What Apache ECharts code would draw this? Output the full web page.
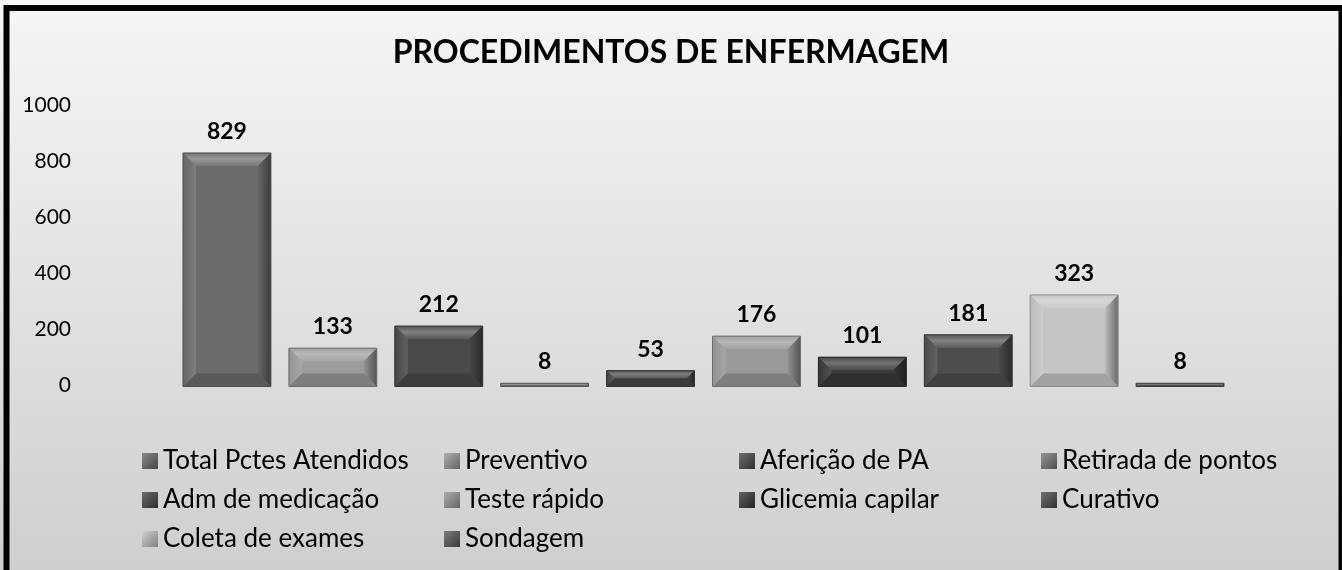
<!DOCTYPE html>
<html>
<head>
<meta charset="utf-8">
<script src="https://cdn.jsdelivr.net/npm/echarts@6/dist/echarts.min.js"></script>
<style>
html,body{margin:0;padding:0;background:#fff;}
#chart{width:1342px;height:570px;}
</style>
</head>
<body>
<div id="chart"></div>
<script>
const titleText = 'PROCEDIMENTOS DE ENFERMAGEM';
const categories = ['Total Pctes Atendidos','Preventivo','Aferição de PA','Retirada de pontos','Adm de medicação','Teste rápido','Glicemia capilar','Curativo','Coleta de exames','Sondagem'];
const values = [829,133,212,8,53,176,101,181,323,8];
const colors = ['#6c6c6c','#9b9b9b','#4a4a4a','#7b7b7b','#474747','#9a9a9a','#393939','#4e4e4e','#c5c5c5','#5b5b5b'];
const yMin = 0, yMax = 1000, yInterval = 200;
const legendColumns = [[0,4,8],[1,5,9],[2,6],[3,7]];

function shade(hex, amt){
  const n = parseInt(hex.slice(1),16);
  let r=(n>>16)&255,g=(n>>8)&255,b=n&255;
  const f = c => Math.max(0,Math.min(255,Math.round(amt>=0 ? c+(255-c)*amt : c*(1+amt))));
  return 'rgb('+f(r)+','+f(g)+','+f(b)+')';
}

function makeRender(color){
  return function(params, api){
    const i = api.value(0), v = api.value(1);
    const base = api.coord([i, 0]);
    const top = api.coord([i, v]);
    const band = api.size([1, 0])[0];
    const w = band * 0.83;
    const x0 = top[0] - w/2, x1 = top[0] + w/2;
    const y0 = Math.min(top[1], base[1]-1), y1 = base[1] + 1;
    const h = y1 - y0;
    const b = Math.min(13, h/2, w/2);
    const children = [
      {type:'rect', shape:{x:x0,y:y0,width:w,height:h}, style:{fill:color}},
      {type:'polygon', shape:{points:[[x0,y0],[x1,y0],[x1-b,y0+b],[x0+b,y0+b]]},
        style:{fill:{type:'linear',x:0,y:0,x2:0,y2:1,colorStops:[{offset:0,color:shade(color,0.05)},{offset:0.45,color:shade(color,0.3)},{offset:1,color:shade(color,0.08)}]}}},
      {type:'polygon', shape:{points:[[x0,y1],[x1,y1],[x1-b,y1-b],[x0+b,y1-b]]},
        style:{fill:shade(color,-0.18)}},
      {type:'polygon', shape:{points:[[x0,y0],[x0+b,y0+b],[x0+b,y1-b],[x0,y1]]},
        style:{fill:{type:'linear',x:0,y:0,x2:1,y2:0,colorStops:[{offset:0,color:shade(color,-0.05)},{offset:1,color:shade(color,0.12)}]}}},
      {type:'polygon', shape:{points:[[x1,y0],[x1-b,y0+b],[x1-b,y1-b],[x1,y1]]},
        style:{fill:{type:'linear',x:0,y:0,x2:1,y2:0,colorStops:[{offset:0,color:shade(color,-0.05)},{offset:1,color:shade(color,-0.45)}]}}},
      {type:'rect', shape:{x:x0,y:y0,width:w,height:h}, style:{fill:'none',stroke:shade(color,-0.3),lineWidth:1}},
      {type:'text', x:top[0], y:y0-10, style:{text:String(v), align:'center', verticalAlign:'bottom', fill:'#000', font:'bold 23px Lato'}}
    ];
    return {type:'group', children:children};
  };
}

const series = categories.map((name, i) => ({
  name: name,
  type: 'custom',
  renderItem: makeRender(colors[i]),
  itemStyle: {color: colors[i]},
  encode: {x:0, y:1},
  data: [[i, values[i]]],
  silent: true,
  animation: false
}));

const legends = legendColumns.map((col, k) => ({
  orient: 'vertical',
  left: [137, 439, 734, 1036][k],
  top: 443,
  itemWidth: 16,
  itemHeight: 16,
  itemGap: 13,
  icon: 'rect',
  selectedMode: false,
  textStyle: {fontFamily:'Lato', fontSize:26, color:'#000'},
  data: col.map(j => ({
    name: categories[j],
    itemStyle: {color: {type:'linear',x:0,y:0,x2:1,y2:1,colorStops:[{offset:0,color:shade(colors[j],0.2)},{offset:1,color:shade(colors[j],-0.35)}]}}
  }))
}));

const chart = echarts.init(document.getElementById('chart'));
chart.setOption({
  animation: false,
  backgroundColor: {type:'linear',x:0,y:0,x2:0,y2:1,colorStops:[{offset:0,color:'#f6f6f6'},{offset:1,color:'#cfcfcf'}]},
  title: {text: titleText, left:'center', top:32, textStyle:{fontFamily:'Lato', fontWeight:'bold', fontSize:32, color:'#000'}},
  grid: {left:174, right:109, top:105, bottom:184.5},
  xAxis: {type:'category', data: categories, show:false},
  yAxis: {type:'value', min:yMin, max:yMax, interval:yInterval,
    axisLine:{show:false}, axisTick:{show:false}, splitLine:{show:false},
    axisLabel:{margin:103, fontFamily:'Lato', fontSize:21, color:'#000', formatter: v => String(v)}},
  legend: legends,
  graphic: [{type:'rect', shape:{x:6.5, y:8, width:1335, height:620}, style:{fill:'none', stroke:'#000', lineWidth:6}, silent:true, z:100}],
  series: series
});
</script>
</body>
</html>
